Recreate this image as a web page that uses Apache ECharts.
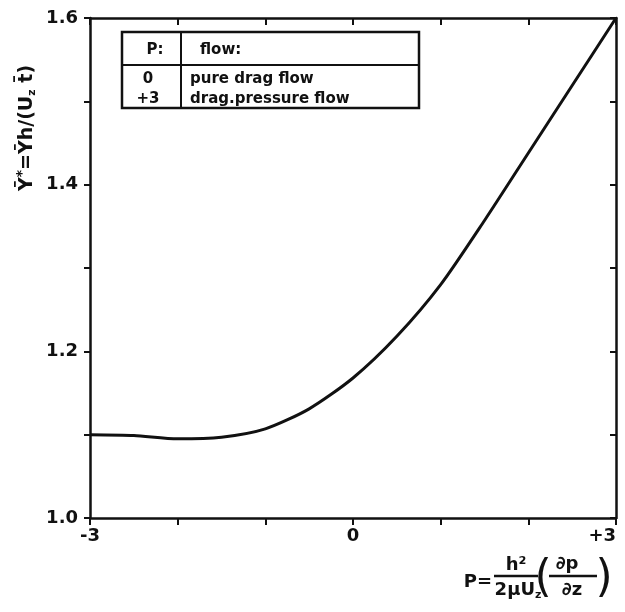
<!DOCTYPE html>
<html>
<head>
<meta charset="utf-8">
<script src="https://cdn.jsdelivr.net/npm/echarts@6/dist/echarts.min.js"></script>
<style>
  html, body { margin: 0; padding: 0; background: #fff; }
  #chart { width: 625px; height: 612px; }
</style>
</head>
<body>
<div id="chart"></div>
<script>
// data
const pValues = [-3, -2.5, -2, -1.5, -1, -0.5, 0, 0.5, 1, 1.5, 2, 2.5, 3]
const gammaValues = [1.100, 1.099, 1.095, 1.097, 1.107, 1.131, 1.168, 1.218, 1.280, 1.357, 1.438, 1.519, 1.600]
const xTickLabels = { '-3': '-3', '0': '0', '3': '+3' }
const yTickLabels = ['1.0', '1.2', '1.4', '1.6']
const tableHead = ['P:', 'flow:']
const tableRows = [['0', 'pure drag flow'], ['+3', 'drag.pressure flow']]

const ink = '#111'
const font = 'DejaVu Sans'

const chart = echarts.init(document.getElementById('chart'))

const curve = pValues.map((p, i) => [p, gammaValues[i]])

// axis helpers
const baseX = (pos, inside, showLabel) => ({
    type: 'value', position: pos, min: -3, max: 3, interval: 1,
    axisLine: { onZero: false, lineStyle: { color: ink, width: 2.5 } },
    axisTick: { inside: inside, length: 7, lineStyle: { color: ink, width: 2 } },
    splitLine: { show: false },
    axisLabel: {
        show: showLabel, color: ink, fontFamily: font, fontWeight: 'bold', fontSize: 18, margin: 9,
        alignMaxLabel: 'right',
        formatter: v => xTickLabels[String(Math.round(v))] || ''
    }
})
const baseY = (pos, inside, showLabel) => ({
    type: 'value', position: pos, min: 1.0, max: 1.6, interval: 0.1,
    axisLine: { onZero: false, lineStyle: { color: ink, width: 2.5 } },
    axisTick: { inside: inside, length: 6, lineStyle: { color: ink, width: 2 } },
    splitLine: { show: false },
    axisLabel: {
        show: showLabel, color: ink, fontFamily: font, fontWeight: 'bold', fontSize: 18, margin: 12,
        formatter: v => {
            const s = v.toFixed(1)
            return yTickLabels.includes(s) ? s : ''
        }
    }
})

// legend table
const tbl = { x: 122, y: 32, w: 297, h: 76, split: 181, row: 65 }
const tFont = 'bold 15px ' + font
const tableGraphic = [
    { type: 'rect', shape: { x: tbl.x, y: tbl.y, width: tbl.w, height: tbl.h },
      style: { fill: '#fff', stroke: ink, lineWidth: 2.5 }, z: 10 },
    { type: 'line', shape: { x1: tbl.x, y1: tbl.row, x2: tbl.x + tbl.w, y2: tbl.row },
      style: { stroke: ink, lineWidth: 2 }, z: 11 },
    { type: 'line', shape: { x1: tbl.split, y1: tbl.y, x2: tbl.split, y2: tbl.y + tbl.h },
      style: { stroke: ink, lineWidth: 2 }, z: 11 },
    { type: 'text', x: 155, y: 50, z: 11,
      style: { text: tableHead[0], fill: ink, font: tFont, align: 'center', verticalAlign: 'middle' } },
    { type: 'text', x: 200, y: 50, z: 11,
      style: { text: tableHead[1], fill: ink, font: tFont, align: 'left', verticalAlign: 'middle' } }
]
tableRows.forEach((r, i) => {
    const yy = 79 + i * 20
    tableGraphic.push(
        { type: 'text', x: 148, y: yy, z: 11,
          style: { text: r[0], fill: ink, font: tFont, align: 'center', verticalAlign: 'middle' } },
        { type: 'text', x: 190, y: yy, z: 11,
          style: { text: r[1], fill: ink, font: tFont, align: 'left', verticalAlign: 'middle' } }
    )
})

// x axis name: P = h^2/(2 mu U_z) (dp/dz)
const nFont = 'bold 18px ' + font
const xName = [
    { type: 'text', x: 492, y: 582, style: { text: 'P=', fill: ink, font: nFont, align: 'right', verticalAlign: 'middle' } },
    { type: 'text', x: 516, y: 565, style: { text: 'h²', fill: ink, font: nFont, align: 'center', verticalAlign: 'middle' } },
    { type: 'line', shape: { x1: 494, y1: 576, x2: 538, y2: 576 }, style: { stroke: ink, lineWidth: 2.5 } },
    { type: 'text', x: 518, y: 590, style: {
        text: '{a|2μU}{s|z}', fill: ink, align: 'center', verticalAlign: 'middle',
        rich: { a: { fontFamily: font, fontWeight: 'bold', fontSize: 18, fill: ink },
                s: { fontFamily: font, fontWeight: 'bold', fontSize: 11, fill: ink, padding: [10, 0, 0, 0] } }
    } },
    { type: 'text', x: 543, y: 580, style: { text: '(', fill: ink, font: '44px ' + font, align: 'center', verticalAlign: 'middle' } },
    { type: 'text', x: 567, y: 564, style: { text: '∂p', fill: ink, font: nFont, align: 'center', verticalAlign: 'middle' } },
    { type: 'line', shape: { x1: 549, y1: 576, x2: 597, y2: 576 }, style: { stroke: ink, lineWidth: 2.5 } },
    { type: 'text', x: 572, y: 590, style: { text: '∂z', fill: ink, font: nFont, align: 'center', verticalAlign: 'middle' } },
    { type: 'text', x: 604, y: 580, style: { text: ')', fill: ink, font: '44px ' + font, align: 'center', verticalAlign: 'middle' } }
]

// y axis name, rotated
const yName = {
    type: 'text', x: 27, y: 128, rotation: Math.PI / 2,
    style: {
        text: '{a|Ȳ}{s|*}{a|=Ȳh/(U}{b|z}{a| t̄)}',
        align: 'center', verticalAlign: 'middle',
        rich: {
            a: { fontFamily: font, fontWeight: 'bold', fontSize: 19, fill: ink },
            s: { fontFamily: font, fontWeight: 'bold', fontSize: 14, fill: ink, padding: [0, 0, 10, 0] },
            b: { fontFamily: font, fontWeight: 'bold', fontSize: 11, fill: ink, padding: [10, 0, 0, 0] }
        }
    }
}

chart.setOption({
    backgroundColor: '#fff',
    animation: false,
    grid: { left: 90, right: 9, top: 18, bottom: 94, outerBoundsMode: 'none' },
    xAxis: [baseX('bottom', false, true), baseX('top', true, false)],
    yAxis: [baseY('left', false, true), baseY('right', true, false)],
    series: [{
        type: 'line',
        data: curve,
        smooth: 0.25,
        showSymbol: false,
        lineStyle: { color: ink, width: 3 }
    }],
    graphic: [...tableGraphic, ...xName, yName]
})
</script>
</body>
</html>
